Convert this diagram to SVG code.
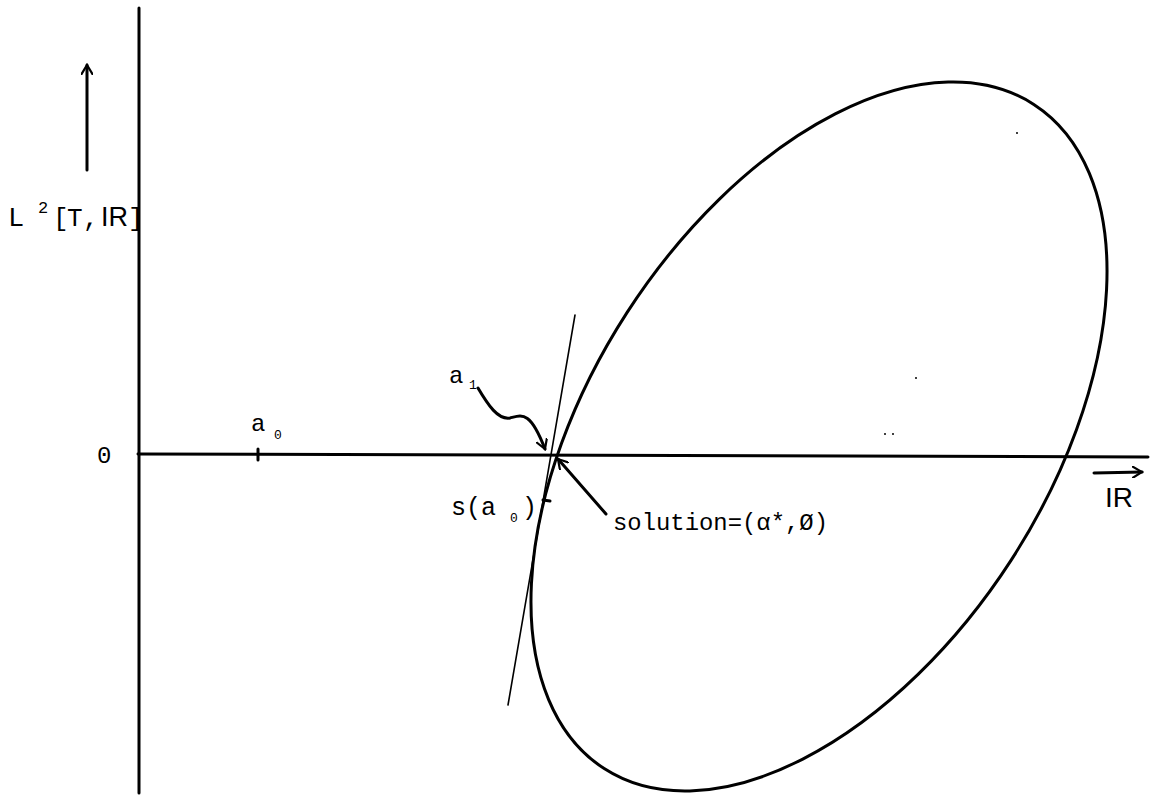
<svg xmlns="http://www.w3.org/2000/svg" width="1164" height="795" viewBox="0 0 1164 795">
<style>
.t{font-family:"Liberation Mono","DejaVu Sans Mono",monospace;fill:#000}
.s{font-family:"Liberation Sans",Arial,sans-serif;fill:#000}
.ax{stroke:#000;stroke-width:3;fill:none;stroke-linecap:round}
.thin{stroke:#000;stroke-width:1.6;fill:none;stroke-linecap:round}
</style>
<defs>
<marker id="ah" markerWidth="12" markerHeight="12" refX="10" refY="6" orient="auto" markerUnits="userSpaceOnUse">
<path d="M0,0 L10,6 L0,12" fill="none" stroke="#000" stroke-width="2.2"/>
</marker>
</defs>
<rect width="1164" height="795" fill="#fff"/>
<g id="axes">
<line class="ax" x1="139" y1="8" x2="139" y2="793"/>
<line class="ax" x1="138" y1="454" x2="1148" y2="457"/>
<line class="ax" x1="258" y1="449" x2="258" y2="460"/>
</g>
<g id="ellipse">
<ellipse cx="819" cy="436.5" rx="395.5" ry="228.5" transform="rotate(-57.1 819 436.5)" fill="none" stroke="#000" stroke-width="3"/>
</g>
<g id="connectors">
<line class="thin" x1="575" y1="315" x2="508" y2="705"/>
<line class="ax" x1="87" y1="170" x2="87" y2="65" marker-end="url(#ah)"/>
<line class="ax" x1="1094" y1="473" x2="1142" y2="472" marker-end="url(#ah)"/>
<path class="ax" d="M478,388 C488,405 498,420 510,418 C522,415 530,410 545,449" stroke-width="2.5" marker-end="url(#ah)"/>
<line class="ax" x1="606" y1="514" x2="558" y2="459" stroke-width="2.5" marker-end="url(#ah)"/>
<line class="ax" x1="543" y1="500" x2="550" y2="501" stroke-width="3"/>
</g>
<g id="labels">
<text class="t" x="8" y="226" font-size="27">L</text>
<text class="t" x="38" y="213" font-size="17">2</text>
<text class="t" x="53" y="226" font-size="26">[</text>
<text class="t" x="67" y="226" font-size="26">T</text>
<text class="t" x="83" y="226" font-size="26">,</text>
<text class="s" x="101" y="226" font-size="27">IR</text>
<text class="t" x="128" y="226" font-size="26">]</text>
<text class="t" x="97" y="463" font-size="24">0</text>
<text class="t" x="251" y="431" font-size="24">a</text>
<text class="t" x="274" y="439" font-size="13">0</text>
<text class="t" x="449" y="383" font-size="24">a</text>
<text class="t" x="469" y="389" font-size="13">1</text>
<text class="t" x="451" y="515" font-size="25">s(a</text>
<text class="t" x="510" y="522" font-size="13">0</text>
<text class="t" x="522" y="515" font-size="25">)</text>
<text class="t" x="613" y="530" font-size="23" textLength="215" lengthAdjust="spacingAndGlyphs">solution=(α*,Ø)</text>
<text class="s" x="1105" y="507" font-size="28">IR</text>
</g>
<g id="specks" fill="#000">
<circle cx="1017" cy="133" r="1"/>
<circle cx="916" cy="378" r="1"/>
<circle cx="885" cy="434" r="1"/>
<circle cx="893" cy="434" r="1"/>
</g>
</svg>
